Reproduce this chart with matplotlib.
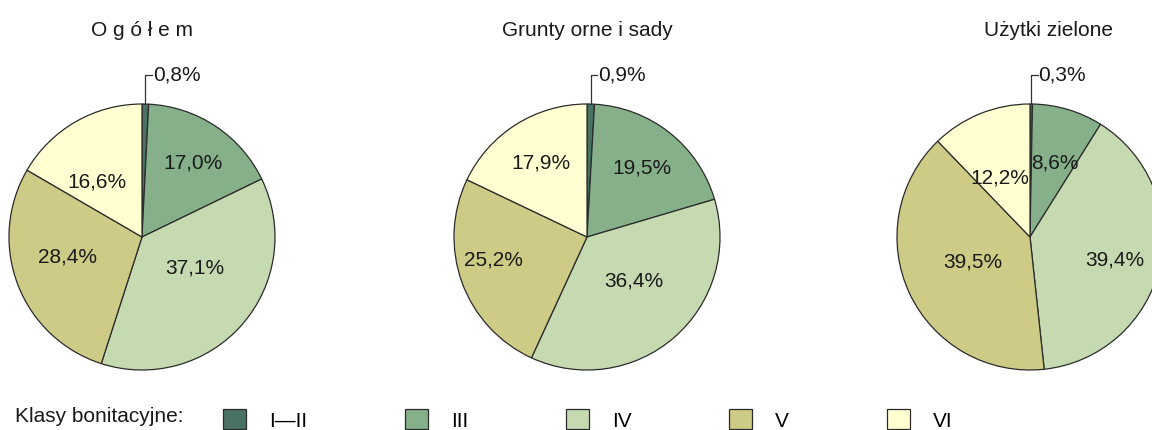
import matplotlib
matplotlib.use("Agg")
import matplotlib.pyplot as plt
from matplotlib.patches import Patch
import numpy as np

plt.rcParams['font.family'] = ['Liberation Sans', 'DejaVu Sans']

# data
classes = ["I\u2014II", "III", "IV", "V", "VI"]
colors = ["#4a7264", "#86b08a", "#c6dab2", "#cdcb86", "#ffffd2"]
titles = ["O g ó ł e m", "Grunty orne i sady", "Użytki zielone"]
ogolem = [0.8, 17.0, 37.1, 28.4, 16.6]
grunty = [0.9, 19.5, 36.4, 25.2, 17.9]
uzytki = [0.3, 8.6, 39.4, 39.5, 12.2]
series = [ogolem, grunty, uzytki]

# label positions inside the pies (radius = 1), classes III..VI
label_pos = [
    [(0.38, 0.56), (0.40, -0.23), (-0.56, -0.15), (-0.34, 0.41)],
    [(0.41, 0.52), (0.35, -0.33), (-0.70, -0.17), (-0.35, 0.56)],
    [(0.19, 0.56), (0.64, -0.17), (-0.43, -0.19), (-0.23, 0.44)],
]

W, H = 1152, 430
fs = 15
fig = plt.figure(figsize=(W / 100, H / 100), dpi=100)

centers_x = [142, 587, 1030]
cy = 237
r = 133
title_x = [142, 587, 1048]

def fmt(v):
    return f"{v:.1f}%".replace(".", ",")

for i, vals in enumerate(series):
    cx = centers_x[i]
    ax = fig.add_axes([(cx - r) / W, (H - cy - r) / H, 2 * r / W, 2 * r / H])
    wedges, _ = ax.pie(vals, colors=colors, startangle=90, counterclock=False,
                       radius=1, wedgeprops=dict(edgecolor="#2b2b2b", linewidth=0.9))
    ax.set_xlim(-1, 1)
    ax.set_ylim(-1, 1)
    ax.set_aspect("equal")
    ax.axis("off")
    for j in range(1, 5):
        x, y = label_pos[i][j - 1]
        ax.text(x, y, fmt(vals[j]), ha="center", va="center", fontsize=fs, color="#1a1a1a")
    # small slice: leader line
    ang = np.deg2rad(90 - vals[0] * 3.6 / 2)
    x0 = np.cos(ang)
    ax.plot([x0, x0, x0 + 0.05], [np.sin(ang), 1.22, 1.22], color="#333333",
            linewidth=0.9, clip_on=False)
    ax.text(x0 + 0.055, 1.22, fmt(vals[0]), ha="left", va="center", fontsize=fs,
            color="#1a1a1a", clip_on=False)
    fig.text(title_x[i] / W, 1 - 31 / H, titles[i], ha="center", va="center",
             fontsize=fs, color="#1a1a1a")

fig.text(15 / W, 1 - 417 / H, "Klasy bonitacyjne:", ha="left", va="center",
         fontsize=fs, color="#1a1a1a")
handles = [Patch(facecolor=c, edgecolor="#2b2b2b", linewidth=0.9) for c in colors]
fig.legend(handles, classes, loc="center left", bbox_to_anchor=(223 / W, 1 - 420 / H),
           ncol=5, frameon=False, fontsize=fs, handlelength=1.1, handleheight=1.1,
           handletextpad=1.1, columnspacing=4.7, borderaxespad=0, borderpad=0)

fig.savefig("out.png", dpi=100)
